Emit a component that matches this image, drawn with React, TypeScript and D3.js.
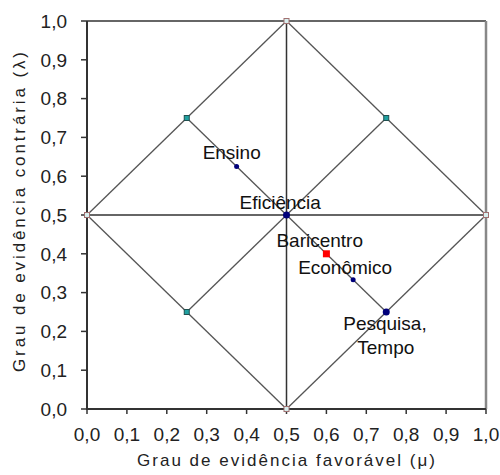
import React from "react";
import * as d3 from "d3";

const ticks = [0, 0.1, 0.2, 0.3, 0.4, 0.5, 0.6, 0.7, 0.8, 0.9, 1.0];
const tickLabels = ["0,0", "0,1", "0,2", "0,3", "0,4", "0,5", "0,6", "0,7", "0,8", "0,9", "1,0"];

// Lattice segments [mu1, lambda1, mu2, lambda2]
const diagSegments: number[][] = [
  [0, 0.5, 0.5, 1],
  [0.5, 1, 1, 0.5],
  [1, 0.5, 0.5, 0],
  [0.5, 0, 0, 0.5],
  [0.25, 0.75, 0.75, 0.25],
  [0.75, 0.75, 0.25, 0.25],
];
const axisSegments: number[][] = [
  [0, 0.5, 1, 0.5],
  [0.5, 0, 0.5, 1],
];

const vertexMu = [0, 0.5, 1, 0.5];
const vertexLambda = [0.5, 1, 0.5, 0];
const midMu = [0.25, 0.75, 0.25];
const midLambda = [0.75, 0.75, 0.25];

const pointLabels = ["Ensino", "Eficiência", "Econômico", "Pesquisa,|Tempo"];
const pointMu = [0.375, 0.5, 0.667, 0.75];
const pointLambda = [0.625, 0.5, 0.333, 0.25];
const pointSize = [2.5, 3.5, 2.5, 3.5];

const baryLabel = "Baricentro";
const baryMu = 0.6;
const baryLambda = 0.4;

const xTitle = "Grau de evidência favorável (μ)";
const yTitle = "Grau de evidência contrária (λ)";

const labelOffsets: [number, number][] = [
  [-34, -14],
  [-47, -13],
  [-55, -13],
  [-43, 11],
];

export default function App() {
  const x = d3.scaleLinear().domain([0, 1]).range([87, 486]);
  const y = d3.scaleLinear().domain([0, 1]).range([409, 21]);
  const font = "'Liberation Sans', Arial, sans-serif";

  return (
    <svg
      width={500}
      height={475}
      style={{ position: "absolute", left: 0, top: 0, background: "#fff" }}
      fontFamily={font}
    >
      <rect x={0} y={0} width={500} height={475} fill="#fff" />
      {/* frame top & right */}
      <line x1={x(0)} x2={x(1)} y1={y(1)} y2={y(1)} stroke="#333" strokeWidth={1.5} />
      <line x1={x(1)} x2={x(1)} y1={y(1)} y2={y(0)} stroke="#888" strokeWidth={2.5} />

      {/* lattice */}
      {diagSegments.map((s, i) => (
        <line key={"d" + i} x1={x(s[0])} y1={y(s[1])} x2={x(s[2])} y2={y(s[3])} stroke="#555" strokeWidth={1.3} />
      ))}
      {axisSegments.map((s, i) => (
        <line key={"a" + i} x1={x(s[0])} y1={y(s[1])} x2={x(s[2])} y2={y(s[3])} stroke="#333" strokeWidth={1.5} />
      ))}

      {/* axes */}
      <line x1={x(0)} x2={x(0)} y1={y(0) + 1} y2={y(1)} stroke="#333" strokeWidth={2} />
      <line x1={x(0) - 1} x2={x(1)} y1={y(0)} y2={y(0)} stroke="#333" strokeWidth={2} />
      {ticks.map((t, i) => (
        <g key={"yt" + i}>
          <line x1={x(0) - 6} x2={x(0)} y1={y(t)} y2={y(t)} stroke="#333" strokeWidth={1.5} />
          <text x={67} y={y(t)} dy="0.36em" textAnchor="end" fontSize={19} fill="#222">
            {tickLabels[i]}
          </text>
        </g>
      ))}
      {ticks.map((t, i) => (
        <g key={"xt" + i}>
          <line x1={x(t)} x2={x(t)} y1={y(0)} y2={y(0) + 5} stroke="#333" strokeWidth={1.5} />
          <text x={x(t)} y={434} dy="0.36em" textAnchor="middle" fontSize={19} fill="#222">
            {tickLabels[i]}
          </text>
        </g>
      ))}

      {/* titles */}
      <text x={286} y={460} dy="0.36em" textAnchor="middle" fontSize={17} fill="#222" textLength={298} lengthAdjust="spacing">
        {xTitle}
      </text>
      <text
        transform={`translate(19,212) rotate(-90)`}
        dy="0.36em"
        textAnchor="middle"
        fontSize={17}
        fill="#222"
        textLength={320}
        lengthAdjust="spacing"
      >
        {yTitle}
      </text>

      {/* vertex markers */}
      {vertexMu.map((m, i) => (
        <rect key={"v" + i} x={x(m) - 2.5} y={y(vertexLambda[i]) - 2.5} width={5} height={5} fill="#d8eeee" stroke="#a07070" strokeWidth={1} />
      ))}
      {midMu.map((m, i) => (
        <rect key={"m" + i} x={x(m) - 2.5} y={y(midLambda[i]) - 2.5} width={5} height={5} fill="#20a0a0" stroke="#205050" strokeWidth={1} />
      ))}

      {/* data points */}
      {pointMu.map((m, i) => (
        <circle key={"p" + i} cx={x(m)} cy={y(pointLambda[i])} r={pointSize[i]} fill="#00007a" />
      ))}
      <rect x={x(baryMu) - 3.5} y={y(baryLambda) - 3.5} width={7} height={7} fill="#ff0000" />

      {/* labels */}
      {pointLabels.map((lab, i) => {
        const parts = lab.split("|");
        const lx = x(pointMu[i]) + labelOffsets[i][0];
        const ly = y(pointLambda[i]) + labelOffsets[i][1];
        return (
          <text key={"l" + i} x={lx} y={ly} dy="0.36em" fontSize={19} fill="#111">
            {parts.map((p, j) => (
              <tspan key={j} x={lx + j * 14} dy={j === 0 ? "0.36em" : "24"}>
                {p}
              </tspan>
            ))}
          </text>
        );
      })}
      <text x={x(baryMu) - 50} y={y(baryLambda) - 14} dy="0.36em" fontSize={19} fill="#111">
        {baryLabel}
      </text>
    </svg>
  );
}
